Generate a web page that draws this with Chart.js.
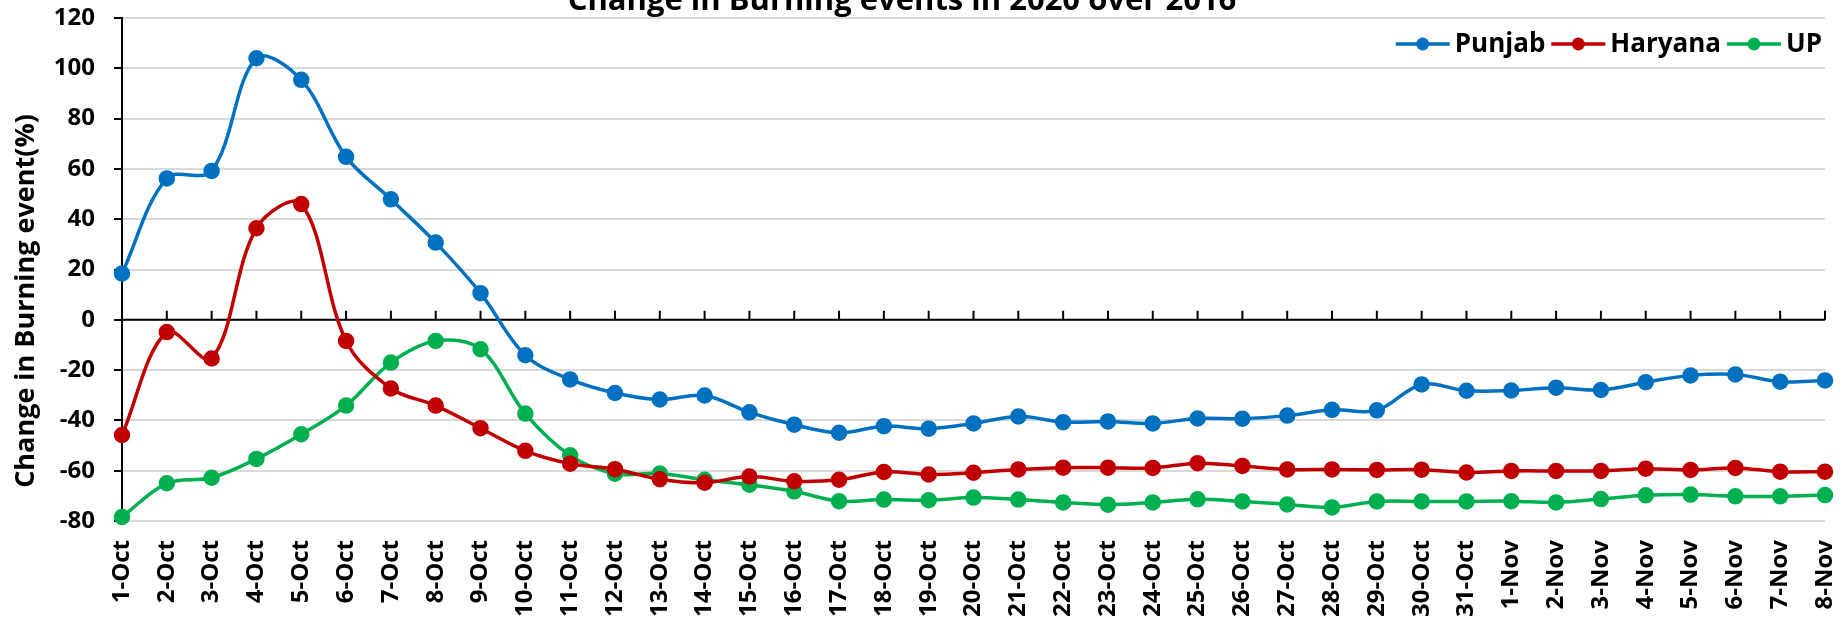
<!DOCTYPE html>
<html>
<head>
<meta charset="utf-8">
<script src="https://cdn.jsdelivr.net/npm/chart.js@4"></script>
<style>
  html, body { margin: 0; padding: 0; background: #fff; }
  #wrap { width: 1843px; height: 637px; position: relative; }
</style>
</head>
<body>
<div id="wrap"><canvas id="burningChart"></canvas></div>
<script>
const days = ['1-Oct', '2-Oct', '3-Oct', '4-Oct', '5-Oct', '6-Oct', '7-Oct', '8-Oct', '9-Oct', '10-Oct',
    '11-Oct', '12-Oct', '13-Oct', '14-Oct', '15-Oct', '16-Oct', '17-Oct', '18-Oct', '19-Oct', '20-Oct',
    '21-Oct', '22-Oct', '23-Oct', '24-Oct', '25-Oct', '26-Oct', '27-Oct', '28-Oct', '29-Oct', '30-Oct',
    '31-Oct', '1-Nov', '2-Nov', '3-Nov', '4-Nov', '5-Nov', '6-Nov', '7-Nov', '8-Nov'];

const punjab = [18.4, 56.2, 59.2, 104.0, 95.4, 64.8, 47.9, 30.7, 10.6, -14.1,
    -23.7, -29.1, -31.7, -30.1, -36.8, -41.7, -44.9, -42.3, -43.3, -41.2,
    -38.4, -40.7, -40.4, -41.2, -39.2, -39.3, -38.1, -35.8, -36.0, -25.7,
    -28.2, -28.1, -27.0, -27.9, -24.8, -22.1, -21.7, -24.6, -24.1];

const haryana = [-45.8, -4.9, -15.4, 36.4, 46.0, -8.4, -27.3, -34.1, -43.1, -52.1,
    -57.2, -59.4, -63.4, -64.8, -62.3, -64.2, -63.6, -60.5, -61.5, -60.8,
    -59.5, -58.8, -58.8, -58.9, -57.0, -58.1, -59.5, -59.5, -59.7, -59.6,
    -60.7, -60.1, -60.1, -60.1, -59.2, -59.7, -58.9, -60.4, -60.4];

const up = [-78.4, -65.0, -62.8, -55.3, -45.5, -34.1, -17.0, -8.4, -11.7, -37.3,
    -53.9, -61.2, -61.1, -63.6, -65.6, -68.2, -72.1, -71.5, -71.7, -70.7,
    -71.5, -72.6, -73.5, -72.6, -71.4, -72.2, -73.4, -74.6, -72.2, -72.2,
    -72.2, -72.1, -72.6, -71.3, -69.8, -69.5, -70.2, -70.2, -69.7];

const yTicks = { min: -80, max: 120, step: 20 };
const chartTitle = 'Change in Burning events in 2020 over 2016';
const yTitle = 'Change in Burning event(%)';

const FONT = "'Open Sans', 'DejaVu Sans', sans-serif";

function series(label, data, color) {
    return {
        label: label,
        data: data,
        borderColor: color,
        backgroundColor: color,
        pointBackgroundColor: color,
        pointBorderColor: color,
        borderWidth: 3.5,
        pointRadius: 6.5,
        pointHoverRadius: 6.5,
        tension: 0.35,
        clip: false
    };
}

// zero line with small upward ticks, like the Excel category axis
const zeroAxis = {
    id: 'zeroAxis',
    beforeDatasetsDraw(chart) {
        const ctx = chart.ctx;
        const x = chart.scales.x;
        const y0 = chart.scales.y.getPixelForValue(0);
        const area = chart.chartArea;
        ctx.save();
        ctx.strokeStyle = '#000';
        ctx.lineWidth = 2;
        ctx.beginPath();
        ctx.moveTo(area.left, y0);
        ctx.lineTo(area.right, y0);
        for (let i = 1; i < days.length; i++) {
            const px = x.getPixelForTick(i);
            ctx.moveTo(px, y0);
            ctx.lineTo(px, y0 - 9);
        }
        ctx.stroke();
        ctx.restore();
    }
};

// title (partly cut at top), y title and legend drawn inside the plot
const extras = {
    id: 'extras',
    afterDraw(chart) {
        const ctx = chart.ctx;
        const area = chart.chartArea;
        ctx.save();
        ctx.fillStyle = '#000';

        ctx.font = 'bold 31px ' + FONT;
        ctx.textAlign = 'center';
        ctx.textBaseline = 'alphabetic';
        ctx.fillText(chartTitle, 902, 10);

        ctx.save();
        ctx.translate(26, 301);
        ctx.rotate(-Math.PI / 2);
        ctx.font = 'bold 27px ' + FONT;
        ctx.textAlign = 'center';
        ctx.textBaseline = 'middle';
        ctx.fillText(yTitle, 0, 0);
        ctx.restore();

        ctx.font = 'bold 26px ' + FONT;
        ctx.textAlign = 'left';
        ctx.textBaseline = 'middle';
        const ly = 44;
        let lx = area.right - 3;
        const sets = chart.data.datasets.slice().reverse();
        sets.forEach(ds => {
            const w = ctx.measureText(ds.label).width;
            lx -= w;
            ctx.fillStyle = '#000';
            ctx.fillText(ds.label, lx, ly + 1);
            lx -= 5;
            ctx.strokeStyle = ds.borderColor;
            ctx.lineWidth = 3.5;
            ctx.beginPath();
            ctx.moveTo(lx - 54, ly);
            ctx.lineTo(lx, ly);
            ctx.stroke();
            ctx.fillStyle = ds.borderColor;
            ctx.beginPath();
            ctx.arc(lx - 27, ly, 6.5, 0, Math.PI * 2);
            ctx.fill();
            lx -= 54 + 6;
        });
        ctx.restore();
    }
};

document.addEventListener('DOMContentLoaded', () => {
    const ctx = document.getElementById('burningChart').getContext('2d');
    new Chart(ctx, {
        type: 'line',
        data: {
            labels: days,
            datasets: [
                series('Punjab', punjab, '#0070C0'),
                series('Haryana', haryana, '#C00000'),
                series('UP', up, '#00B050')
            ]
        },
        options: {
            responsive: true,
            maintainAspectRatio: false,
            animation: false,
            layout: { padding: { left: 0, right: 18, top: 18, bottom: 0 } },
            plugins: {
                legend: { display: false },
                title: { display: false },
                tooltip: { enabled: false }
            },
            scales: {
                x: {
                    offset: false,
                    grid: { display: false, drawTicks: false },
                    border: { display: false },
                    ticks: {
                        autoSkip: false,
                        maxRotation: 90,
                        minRotation: 90,
                        padding: 19,
                        color: '#000',
                        font: { family: FONT, size: 24, weight: 'bold' }
                    },
                    afterFit(scale) {
                        scale.height = 116;
                        scale.paddingLeft = 0;
                        scale.paddingRight = 0;
                    }
                },
                y: {
                    min: yTicks.min,
                    max: yTicks.max,
                    ticks: {
                        stepSize: yTicks.step,
                        padding: 19,
                        color: '#000',
                        font: { family: FONT, size: 24, weight: 'bold' }
                    },
                    grid: {
                        color: '#d9d9d9',
                        lineWidth: 2,
                        tickColor: '#000',
                        tickLength: 8,
                        tickWidth: 2
                    },
                    border: { color: '#000', width: 2 },
                    afterFit(scale) {
                        scale.width = 122;
                        scale.paddingTop = 0;
                        scale.paddingBottom = 0;
                    }
                }
            }
        },
        plugins: [zeroAxis, extras]
    });
});
</script>
</body>
</html>
